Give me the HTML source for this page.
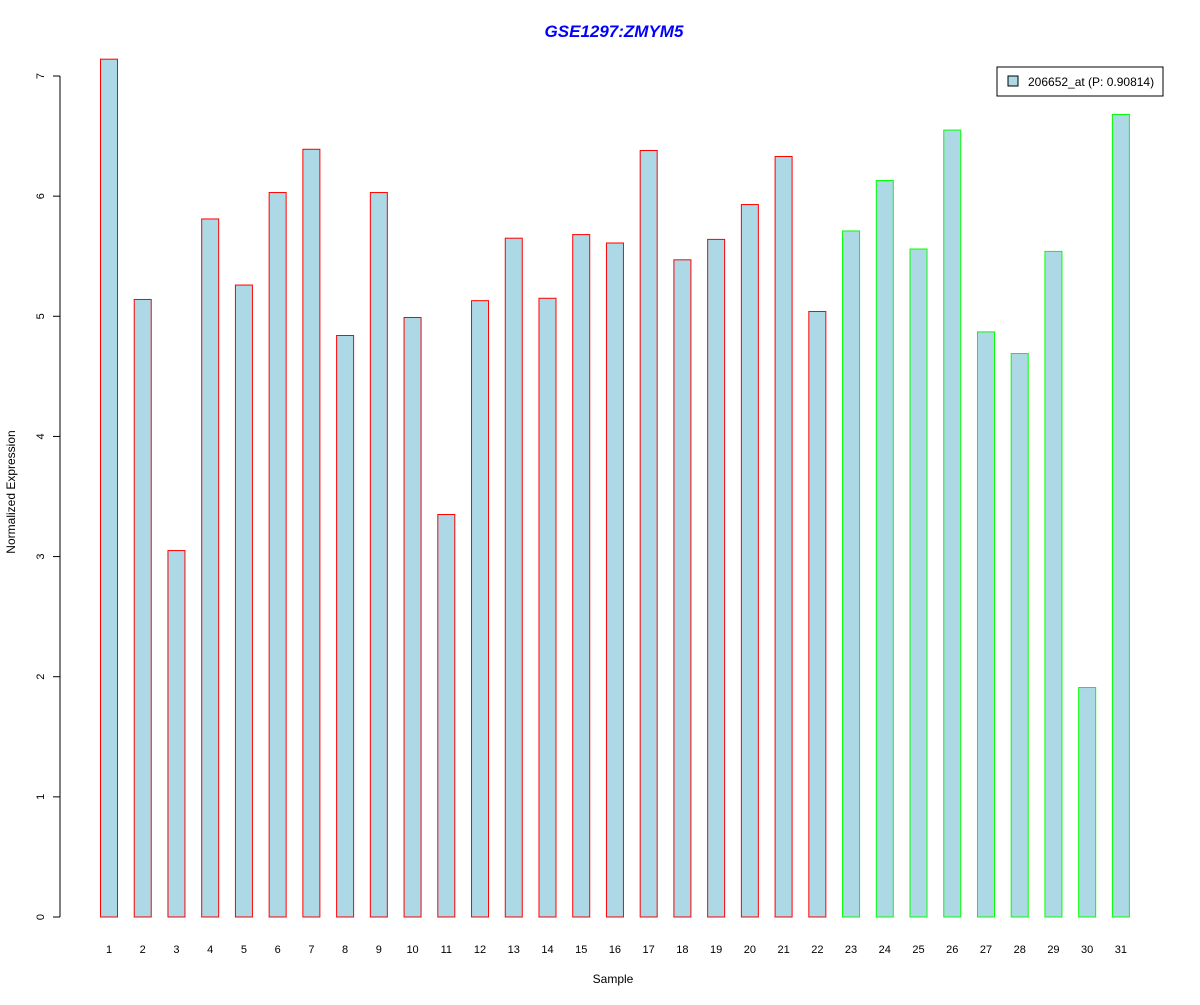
<!DOCTYPE html>
<html><head><meta charset="utf-8"><style>
html,body{margin:0;padding:0;background:#fff;}
svg text{font-family:"Liberation Sans",sans-serif;}
</style></head><body>
<svg id="chart" width="1200" height="1000" xmlns="http://www.w3.org/2000/svg">
<text x="614" y="37" text-anchor="middle" font-size="17" font-weight="bold" font-style="italic" fill="#0000ff">GSE1297:ZMYM5</text>
<text x="613" y="983" text-anchor="middle" font-size="12">Sample</text>
<text transform="translate(15,492) rotate(-90)" text-anchor="middle" font-size="12">Normalized Expression</text>
<g id="yaxis"></g>
<g id="bars"></g>
<g id="xlabels"></g>
<g>
<rect x="997" y="67" width="166" height="29" fill="#fff" stroke="#000"/>
<rect x="1008" y="76" width="10" height="10" fill="#add8e6" stroke="#000"/>
<text x="1028" y="86" font-size="12">206652_at (P: 0.90814)</text>
</g>
</svg>
<script>
const categories=["1","2","3","4","5","6","7","8","9","10","11","12","13","14","15","16","17","18","19","20","21","22","23","24","25","26","27","28","29","30","31"];
const values=[7.14,5.14,3.05,5.81,5.26,6.03,6.39,4.84,6.03,4.99,3.35,5.13,5.65,5.15,5.68,5.61,6.38,5.47,5.64,5.93,6.33,5.04,5.71,6.13,5.56,6.55,4.87,4.69,5.54,1.91,6.68];
const groups=["a","a","a","a","a","a","a","a","a","a","a","a","a","a","a","a","a","a","a","a","a","a","b","b","b","b","b","b","b","b","b"];
const yTicks=[0,1,2,3,4,5,6,7];
const NS="http://www.w3.org/2000/svg";
const y0=917,yUnit=(917-76)/7;
const yScale=v=>y0-v*yUnit;
const xScale=i=>100+i*33.73;
const bw=17;
const ya=document.getElementById('yaxis');
function mk(tag,attrs,parent){const e=document.createElementNS(NS,tag);for(const k in attrs)e.setAttribute(k,attrs[k]);parent.appendChild(e);return e;}
mk('line',{x1:60,x2:60,y1:yScale(0),y2:yScale(7),stroke:'#000'},ya);
yTicks.forEach(t=>{
 const l=mk('line',{x1:53,x2:60,y1:yScale(t),y2:yScale(t),stroke:'#000'},ya);
 
 
 const tx=mk('text',{transform:`translate(44,${yScale(t)}) rotate(-90)`,'text-anchor':'middle','font-size':11},ya);
 tx.textContent=t;
 
 
});
const bg=document.getElementById('bars'),xl=document.getElementById('xlabels');
values.forEach((v,i)=>{
 const r=mk('rect',{x:xScale(i)+0.5,y:yScale(v),width:bw,height:yScale(0)-yScale(v),fill:'#add8e6',stroke:groups[i]==='a'?'#ff0000':'#00ff00'},bg);
 
 
 const t=mk('text',{x:xScale(i)+bw/2+0.5,y:953,'text-anchor':'middle','font-size':11},xl);
 t.textContent=categories[i];
 
 
});
</script>
</body></html>
